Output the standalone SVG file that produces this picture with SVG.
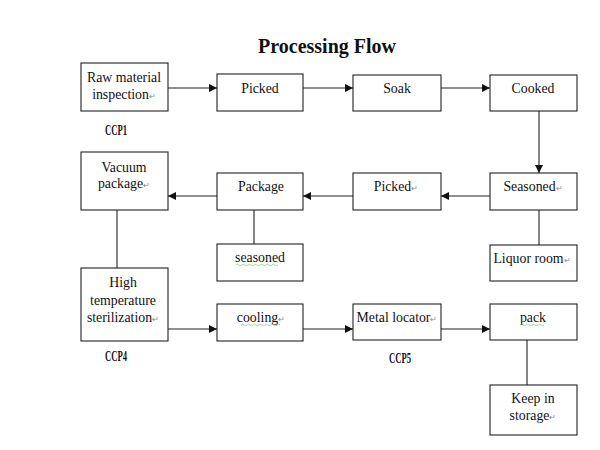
<svg xmlns="http://www.w3.org/2000/svg" width="600" height="450" viewBox="0 0 600 450">
<style>
.box{fill:#fff;stroke:#222;stroke-width:1.1}
.t{font-family:"Liberation Serif","Times New Roman",serif;font-size:13.8px;fill:#111;text-anchor:middle}
.m{font-size:8px;fill:#888}
.ccp{font-family:"Liberation Serif","Times New Roman",serif;font-weight:bold;font-size:14px;fill:#111}
.c{stroke:#222;stroke-width:1.1;fill:none}
.wv{stroke:#7bbf7b;stroke-width:0.7;fill:none}
</style>
<defs>
<marker id="ah" viewBox="0 0 10 10" refX="10" refY="5" markerWidth="8" markerHeight="8" markerUnits="userSpaceOnUse" orient="auto">
<path d="M0,0 L10,5 L0,10 z" fill="#111"/>
</marker>
</defs>
<rect width="600" height="450" fill="#fff"/>
<text x="327" y="53" style="font-family:'Liberation Serif','Times New Roman',serif;font-weight:bold;font-size:20px;text-anchor:middle;fill:#111">Processing Flow</text>

<g id="connectors">
<line class="c" x1="168" y1="88" x2="217" y2="88" marker-end="url(#ah)"/>
<line class="c" x1="303" y1="88" x2="353" y2="88" marker-end="url(#ah)"/>
<line class="c" x1="441" y1="88" x2="490" y2="88" marker-end="url(#ah)"/>
<line class="c" x1="539" y1="111" x2="539" y2="173" marker-end="url(#ah)"/>
<line class="c" x1="490" y1="196" x2="441" y2="196" marker-end="url(#ah)"/>
<line class="c" x1="353" y1="196" x2="303" y2="196" marker-end="url(#ah)"/>
<line class="c" x1="217" y1="196" x2="168" y2="196" marker-end="url(#ah)"/>
<line class="c" x1="117" y1="210" x2="117" y2="268"/>
<line class="c" x1="254" y1="210" x2="254" y2="244"/>
<line class="c" x1="539" y1="210" x2="539" y2="245"/>
<line class="c" x1="168" y1="329" x2="217" y2="329" marker-end="url(#ah)"/>
<line class="c" x1="303" y1="329" x2="353" y2="329" marker-end="url(#ah)"/>
<line class="c" x1="441" y1="329" x2="490" y2="329" marker-end="url(#ah)"/>
<line class="c" x1="527" y1="340" x2="527" y2="385"/>
</g>

<g id="raw">
<rect class="box" x="81" y="63" width="87" height="48"/>
<text class="t" x="124" y="82">Raw material</text>
<text class="t" x="124" y="99">inspection<tspan class="m">↵</tspan></text>
</g>
<text class="ccp" x="105" y="135" textLength="22" lengthAdjust="spacingAndGlyphs">CCP1</text>
<g id="picked1">
<rect class="box" x="217" y="74" width="86" height="37"/>
<text class="t" x="260" y="93">Picked</text>
</g>
<g id="soak">
<rect class="box" x="353" y="75" width="88" height="36"/>
<text class="t" x="397" y="93">Soak</text>
</g>
<g id="cooked">
<rect class="box" x="490" y="75" width="87" height="36"/>
<text class="t" x="533" y="93">Cooked</text>
</g>

<g id="vacuum">
<rect class="box" x="81" y="152" width="87" height="58"/>
<text class="t" x="124" y="172">Vacuum</text>
<text class="t" x="124" y="188">package<tspan class="m">↵</tspan></text>
</g>
<g id="package">
<rect class="box" x="217" y="173" width="86" height="37"/>
<text class="t" x="261" y="191">Package</text>
</g>
<g id="picked2">
<rect class="box" x="353" y="173" width="88" height="37"/>
<text class="t" x="396" y="191">Picked<tspan class="m">↵</tspan></text>
</g>
<g id="seasoned1">
<rect class="box" x="490" y="173" width="87" height="37"/>
<text class="t" x="533" y="191">Seasoned<tspan class="m">↵</tspan></text>
</g>

<g id="seasoned2">
<rect class="box" x="217" y="244" width="86" height="37"/>
<text class="t" x="260" y="262">seasoned</text>
<path class="wv" d="M236,265 q1.5,-1.5 3,0 t3,0 t3,0 t3,0 t3,0 t3,0 t3,0 t3,0 t3,0 t3,0 t3,0 t3,0 t3,0 t3,0"/>
</g>
<g id="liquor">
<rect class="box" x="490" y="245" width="87" height="36"/>
<text class="t" x="532" y="263">Liquor room<tspan class="m">↵</tspan></text>
</g>

<g id="sterilization">
<rect class="box" x="81" y="268" width="87" height="73"/>
<text class="t" x="123" y="287">High</text>
<text class="t" x="123" y="305">temperature</text>
<text class="t" x="123" y="322">sterilization<tspan class="m">↵</tspan></text>
</g>
<text class="ccp" x="105" y="361" textLength="22" lengthAdjust="spacingAndGlyphs">CCP4</text>
<g id="cooling">
<rect class="box" x="217" y="304" width="86" height="37"/>
<text class="t" x="261" y="322">cooling<tspan class="m">↵</tspan></text>
<path class="wv" d="M241,325 q1.5,-1.5 3,0 t3,0 t3,0 t3,0 t3,0 t3,0 t3,0 t3,0 t3,0 t3,0 t3,0 t3,0 t3,0"/>
</g>
<g id="metal">
<rect class="box" x="353" y="304" width="88" height="36"/>
<text class="t" x="397" y="322">Metal locator<tspan class="m">↵</tspan></text>
</g>
<text class="ccp" x="389" y="363" textLength="22" lengthAdjust="spacingAndGlyphs">CCP5</text>
<g id="pack">
<rect class="box" x="490" y="304" width="87" height="36"/>
<text class="t" x="533" y="322">pack</text>
<path class="wv" d="M520,325 q1.5,-1.5 3,0 t3,0 t3,0 t3,0 t3,0 t3,0 t3,0 t3,0"/>
</g>
<g id="storage">
<rect class="box" x="490" y="385" width="87" height="50"/>
<text class="t" x="533" y="403">Keep in</text>
<text class="t" x="533" y="420">storage<tspan class="m">↵</tspan></text>
</g>
</svg>
